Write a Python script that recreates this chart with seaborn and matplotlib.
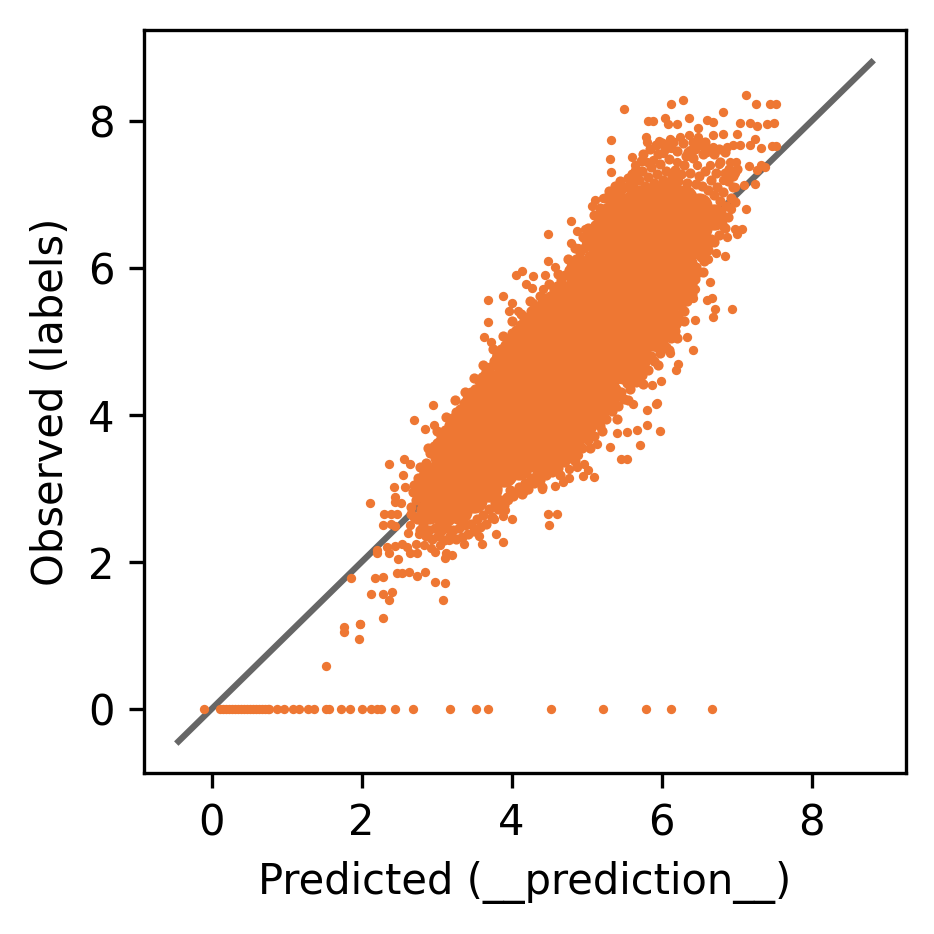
import matplotlib
matplotlib.use("Agg")
import matplotlib.pyplot as plt
import seaborn as sns
import pandas as pd

COLOR = "#EE7733"
LINE_COLOR = "#666666"
identity = [-0.44, 8.8]
ticks = [0, 2, 4, 6, 8]

# zero-labelled observations along the bottom
zero_x = [-0.10, 0.11, 0.15, 0.19, 0.23, 0.27, 0.31, 0.35, 0.39, 0.43, 0.47, 0.51, 0.55, 0.59, 0.63, 0.67,
          0.71, 0.75, 0.77, 0.87, 0.97, 1.09, 1.16, 1.28, 1.37, 1.52, 1.56, 1.73, 1.84, 2.01, 2.12,
          2.20, 2.26, 2.44, 2.69, 3.18, 3.52, 3.68, 4.52, 5.22, 5.79, 6.13, 6.67]
zero_y = [0.0] * len(zero_x)

# individually readable points around the cloud
pts_x = [1.53, 1.77, 1.77, 1.96, 1.98, 1.86,
         7.12, 6.29, 6.13, 5.50, 7.26, 7.44, 7.52, 6.82, 6.05, 6.36, 5.82, 5.89, 6.09, 6.20, 6.60, 6.68, 6.48, 7.04,
         7.18, 7.27, 7.40, 7.50, 7.00, 5.32, 5.79, 5.80, 5.96, 6.11, 6.25, 6.36, 6.48, 6.69, 6.82, 7.24, 7.18, 7.33,
         7.47, 7.52, 6.95, 7.04, 6.87, 6.69, 6.60, 6.13, 6.38, 5.31, 5.60, 5.65, 5.65, 5.32, 5.80, 5.89, 6.02, 6.20,
         6.47, 6.64, 6.76, 6.91, 6.99, 6.98, 7.16, 7.33, 7.38, 7.27, 7.24, 7.10, 6.98, 6.82, 7.13, 6.93, 7.07, 6.98,
         7.00, 6.87, 6.83, 6.84, 6.72, 6.62, 6.64, 6.45, 6.42, 6.67, 6.61, 6.71, 6.94, 6.69, 6.44, 6.34, 6.42, 6.11,
         6.22, 6.19, 5.99, 5.87, 5.94,
         4.79, 4.48, 4.87, 4.98, 5.14, 5.11, 5.22, 5.07, 5.22, 4.79, 4.89, 5.00, 4.49, 4.58, 4.14, 4.06, 4.29, 4.45,
         4.19, 4.27, 4.42, 3.69, 3.89, 4.01, 4.28, 3.96, 4.09, 3.68, 3.63, 3.72, 5.42, 5.56,
         2.70, 2.95, 2.84, 2.97, 2.37, 2.56, 2.65, 2.55, 2.43, 2.44, 2.45, 2.52, 2.58, 2.11, 2.30, 2.39, 2.47, 2.29,
         2.39, 2.45, 2.65, 2.62, 2.77, 2.20, 2.21, 2.34, 2.37, 2.45, 2.54, 2.61, 2.65, 2.74, 2.72, 2.83, 2.92, 2.98,
         3.05, 3.12, 3.11, 3.21, 2.48, 2.47, 2.54, 2.63, 2.74, 2.85, 2.98, 3.11, 3.09, 2.18, 2.29, 2.13, 2.29, 2.41,
         2.37, 2.29, 1.98,
         3.17, 3.37, 3.60, 3.57, 3.79, 3.88, 4.00, 3.89, 3.91, 3.95, 3.76, 4.16, 4.20, 4.41, 4.58, 4.48, 4.60, 4.50,
         4.68, 4.76, 4.95, 5.10, 5.02, 4.96, 4.87, 4.77, 4.60, 4.71, 5.31, 5.46, 5.54, 5.71, 5.14, 4.89, 4.74, 5.81,
         5.98, 5.67, 5.54, 5.40, 5.80, 5.93, 5.62, 5.29]
pts_y = [0.58, 1.11, 1.05, 0.95, 1.16, 1.78,
         8.36, 8.29, 8.23, 8.17, 8.23, 8.23, 8.23, 8.12, 8.04, 8.04, 8.00, 8.00, 7.96, 7.96, 8.01, 7.99, 7.91, 7.97,
         7.97, 7.94, 7.96, 7.97, 7.83, 7.75, 7.79, 7.72, 7.73, 7.76, 7.79, 7.81, 7.79, 7.81, 7.82, 7.76, 7.67, 7.64,
         7.66, 7.66, 7.67, 7.67, 7.65, 7.65, 7.58, 7.63, 7.61, 7.48, 7.51, 7.40, 7.33, 7.31, 7.44, 7.47, 7.56, 7.45,
         7.40, 7.40, 7.42, 7.45, 7.45, 7.29, 7.39, 7.40, 7.38, 7.33, 7.15, 7.13, 7.11, 7.20, 6.80, 6.81, 6.53, 6.53,
         6.46, 6.43, 6.54, 6.17, 6.20, 6.13, 5.81, 5.71, 5.59, 5.60, 5.56, 5.45, 5.44, 5.33, 5.30, 5.06, 4.89, 4.84,
         4.70, 4.62, 4.46, 4.41, 4.16,
         6.64, 6.46, 6.50, 6.53, 6.62, 6.93, 6.96, 6.85, 6.78, 6.34, 6.27, 6.31, 6.10, 6.02, 5.96, 5.90, 5.89, 5.91,
         5.78, 5.73, 5.71, 5.56, 5.62, 5.53, 5.52, 5.41, 5.41, 5.26, 5.06, 5.00, 7.11, 7.15,
         3.93, 4.14, 3.81, 3.86, 3.33, 3.40, 3.33, 3.18, 3.02, 2.89, 2.82, 2.80, 3.02, 2.80, 2.65, 2.66, 2.65, 2.50,
         2.52, 2.49, 2.50, 2.40, 2.38, 2.17, 2.13, 2.21, 2.12, 2.22, 2.24, 2.20, 2.12, 2.13, 2.24, 2.23, 2.19, 2.14,
         2.23, 2.13, 2.05, 2.09, 2.04, 1.85, 1.85, 1.86, 1.81, 1.86, 1.73, 1.72, 1.48, 1.78, 1.80, 1.57, 1.56, 1.59,
         1.49, 1.24, 1.16,
         2.30, 2.24, 2.25, 2.35, 2.38, 2.27, 2.59, 2.63, 2.71, 2.84, 2.58, 2.97, 2.99, 3.00, 3.03, 2.65, 2.66, 2.51,
         3.09, 3.14, 3.17, 3.16, 3.25, 3.34, 3.30, 3.27, 3.34, 3.36, 3.56, 3.40, 3.40, 3.59, 3.60, 3.46, 3.51, 3.86,
         3.78, 3.80, 3.77, 3.75, 4.07, 4.15, 4.15, 4.07]

# more loose points just outside the solid part of the cloud
loose = [(5.75, 7.55), (5.85, 7.62), (5.92, 7.68), (6.00, 7.70), (6.08, 7.68), (6.15, 7.72), (6.28, 7.70), (6.32, 7.52),
         (6.42, 7.72), (6.45, 7.62), (6.52, 7.68), (6.58, 7.72), (6.70, 7.55), (6.76, 7.62), (6.85, 7.58), (6.90, 7.35),
         (6.95, 7.25), (7.00, 7.35), (6.88, 7.18), (6.95, 7.10), (6.98, 6.90), (6.85, 7.30), (5.72, 7.46), (5.68, 7.32),
         (5.60, 7.28), (5.55, 7.22), (5.45, 7.18), (5.38, 7.12), (5.30, 7.05), (5.25, 6.95), (5.18, 6.82), (5.10, 6.72),
         (5.02, 6.55), (4.95, 6.42), (4.85, 6.28), (4.75, 6.12), (4.62, 5.92), (4.50, 5.78), (4.38, 5.62), (4.25, 5.55),
         (4.12, 5.38), (4.00, 5.28), (3.88, 5.08), (3.75, 4.90), (3.62, 4.68), (3.50, 4.50), (3.38, 4.32), (3.25, 4.20),
         (3.12, 3.98), (3.00, 3.78), (2.88, 3.55), (2.78, 3.30),
         (6.55, 5.95), (6.40, 5.65), (6.30, 5.28), (6.20, 5.05), (6.10, 4.88), (5.95, 4.68), (5.75, 4.42), (5.55, 4.20),
         (5.40, 3.95), (5.20, 3.78), (5.05, 3.55), (4.85, 3.38), (4.65, 3.18), (4.40, 3.02)]

# dense edge of the cloud: upper-left flank
upper_edge = [(2.66, 2.75), (2.68, 2.95), (2.70, 3.05), (2.72, 2.85), (2.75, 3.15), (2.78, 3.02), (2.80, 3.28),
              (2.83, 3.12), (2.86, 3.35), (2.88, 3.22), (2.91, 3.48), (2.93, 3.30), (2.96, 3.58), (2.98, 3.42),
              (3.01, 3.62), (3.03, 3.48), (3.06, 3.72), (3.08, 3.55), (3.11, 3.80), (3.13, 3.62), (3.16, 3.86),
              (3.18, 3.70), (3.21, 3.96), (3.23, 3.78), (3.26, 4.04), (3.28, 3.85), (3.31, 4.08), (3.33, 3.92),
              (3.36, 4.16), (3.38, 3.98), (3.41, 4.22), (3.43, 4.05), (3.46, 4.32), (3.48, 4.12), (3.51, 4.36),
              (3.53, 4.18), (3.56, 4.46), (3.58, 4.25), (3.61, 4.52), (3.63, 4.32), (3.66, 4.60), (3.68, 4.40),
              (3.71, 4.66), (3.73, 4.48), (3.76, 4.74), (3.78, 4.55), (3.81, 4.82), (3.83, 4.62), (3.86, 4.90),
              (3.88, 4.70), (3.91, 4.96), (3.93, 4.78), (3.96, 5.04), (3.98, 4.85), (4.01, 5.12), (4.03, 4.92),
              (4.06, 5.16), (4.08, 4.98), (4.11, 5.22), (4.13, 5.02), (4.16, 5.30), (4.18, 5.10), (4.21, 5.34),
              (4.23, 5.14), (4.26, 5.42), (4.28, 5.20), (4.31, 5.40), (4.33, 5.25), (4.36, 5.48), (4.38, 5.30),
              (4.41, 5.54), (4.43, 5.36), (4.46, 5.60), (4.48, 5.40), (4.51, 5.62), (4.53, 5.45), (4.56, 5.70),
              (4.58, 5.50), (4.61, 5.76), (4.63, 5.55), (4.66, 5.84), (4.68, 5.62), (4.71, 5.90), (4.73, 5.70),
              (4.76, 5.98), (4.78, 5.76), (4.81, 6.05), (4.83, 5.84), (4.86, 6.12), (4.88, 5.92), (4.91, 6.22),
              (4.93, 6.00), (4.96, 6.28), (4.98, 6.08), (5.01, 6.38), (5.03, 6.16), (5.06, 6.45), (5.08, 6.24),
              (5.11, 6.58), (5.13, 6.32), (5.16, 6.66), (5.18, 6.42), (5.21, 6.75), (5.23, 6.50), (5.26, 6.82),
              (5.28, 6.60), (5.31, 6.90), (5.33, 6.68), (5.36, 6.96), (5.38, 6.78), (5.41, 7.02), (5.43, 6.85)]

# dense edge of the cloud: top
top_edge = [(5.46, 7.06), (5.50, 6.92), (5.54, 7.10), (5.58, 7.00), (5.62, 7.16), (5.66, 7.05), (5.70, 7.20),
            (5.74, 7.32), (5.78, 7.12), (5.82, 7.24), (5.86, 7.38), (5.90, 7.16), (5.94, 7.28), (5.98, 7.42),
            (6.02, 7.20), (6.06, 7.32), (6.10, 7.48), (6.14, 7.24), (6.18, 7.34), (6.22, 7.18), (6.26, 7.28),
            (6.30, 7.40), (6.34, 7.16), (6.38, 7.30), (6.42, 7.50), (6.46, 7.14), (6.50, 7.26), (6.54, 7.12),
            (6.58, 7.32), (6.62, 7.06), (6.66, 7.20), (6.70, 7.00), (6.74, 7.10), (6.78, 6.92), (6.82, 7.04),
            (6.86, 6.84), (6.72, 7.30), (6.55, 7.55), (6.35, 7.58), (6.20, 7.60), (5.95, 7.55), (6.78, 7.45),
            (6.05, 7.62), (6.62, 7.62)]

# dense edge of the cloud: lower-right flank
lower_edge = [(6.88, 6.70), (6.92, 6.95), (6.85, 6.55), (6.80, 6.60), (6.76, 6.45), (6.72, 6.60), (6.70, 6.35),
              (6.66, 6.40), (6.62, 6.25), (6.58, 6.30), (6.56, 6.10), (6.52, 6.15), (6.50, 5.95), (6.46, 6.02),
              (6.44, 5.85), (6.40, 5.90), (6.38, 5.70), (6.34, 5.75), (6.34, 5.55), (6.30, 5.60), (6.30, 5.42),
              (6.26, 5.48), (6.24, 5.30), (6.20, 5.36), (6.18, 5.15), (6.14, 5.22), (6.12, 5.05), (6.08, 5.10),
              (6.06, 4.92), (6.02, 5.00), (5.98, 4.85), (5.94, 4.92), (5.90, 4.74), (5.86, 4.80), (5.82, 4.62),
              (5.78, 4.72), (5.74, 4.55), (5.70, 4.62), (5.66, 4.45), (5.62, 4.52), (5.58, 4.35), (5.54, 4.44),
              (5.50, 4.22), (5.46, 4.32), (5.42, 4.12), (5.38, 4.24), (5.34, 4.05), (5.30, 4.14), (5.26, 3.95),
              (5.22, 4.04), (5.18, 3.85), (5.14, 3.92), (5.10, 3.72), (5.06, 3.82), (5.02, 3.66), (4.98, 3.72),
              (4.94, 3.55), (4.90, 3.62), (4.86, 3.50), (4.82, 3.56), (4.78, 3.42), (4.74, 3.50), (4.70, 3.36),
              (4.66, 3.44), (4.62, 3.28), (4.58, 3.36), (4.54, 3.22), (4.50, 3.30), (4.46, 3.18), (4.42, 3.24),
              (4.38, 3.12), (4.34, 3.20), (4.30, 3.08), (4.26, 3.14), (4.22, 3.00), (4.18, 3.08), (4.14, 2.92),
              (4.10, 3.02), (4.06, 2.96), (4.02, 2.90), (3.98, 2.98), (3.94, 2.88), (3.90, 2.78), (3.86, 2.85),
              (3.82, 2.72), (3.78, 2.80), (3.74, 2.62), (3.70, 2.72), (3.66, 2.52), (3.62, 2.64), (3.58, 2.48),
              (3.54, 2.58), (3.50, 2.42), (3.46, 2.52), (3.42, 2.38), (3.38, 2.50), (3.34, 2.34), (3.30, 2.46),
              (3.26, 2.32), (3.22, 2.44), (3.18, 2.36), (3.14, 2.46), (3.10, 2.30), (3.06, 2.42), (3.02, 2.36),
              (2.98, 2.46), (2.94, 2.32), (2.90, 2.44), (2.86, 2.36), (2.82, 2.50), (2.78, 2.44), (2.74, 2.58),
              (2.70, 2.62), (2.66, 2.66)]

# the overplotted centre of the cloud, drawn with wider discs
core_x = [2.9, 2.9, 2.9,
          3.1, 3.1, 3.1, 3.1, 3.1,
          3.3, 3.3, 3.3, 3.3, 3.3, 3.3,
          3.5, 3.5, 3.5, 3.5, 3.5, 3.5, 3.5,
          3.7, 3.7, 3.7, 3.7, 3.7, 3.7, 3.7,
          3.9, 3.9, 3.9, 3.9, 3.9, 3.9, 3.9,
          4.1, 4.1, 4.1, 4.1, 4.1, 4.1, 4.1, 4.1,
          4.3, 4.3, 4.3, 4.3, 4.3, 4.3, 4.3, 4.3,
          4.5, 4.5, 4.5, 4.5, 4.5, 4.5, 4.5, 4.5, 4.5,
          4.7, 4.7, 4.7, 4.7, 4.7, 4.7, 4.7, 4.7, 4.7,
          4.9, 4.9, 4.9, 4.9, 4.9, 4.9, 4.9, 4.9, 4.9, 4.9,
          5.1, 5.1, 5.1, 5.1, 5.1, 5.1, 5.1, 5.1, 5.1, 5.1,
          5.3, 5.3, 5.3, 5.3, 5.3, 5.3, 5.3, 5.3, 5.3, 5.3, 5.3,
          5.5, 5.5, 5.5, 5.5, 5.5, 5.5, 5.5, 5.5, 5.5, 5.5,
          5.7, 5.7, 5.7, 5.7, 5.7, 5.7, 5.7, 5.7, 5.7, 5.7,
          5.9, 5.9, 5.9, 5.9, 5.9, 5.9, 5.9, 5.9, 5.9,
          6.1, 6.1, 6.1, 6.1, 6.1, 6.1, 6.1, 6.1,
          6.3, 6.3, 6.3, 6.3, 6.3, 6.3,
          6.5, 6.5, 6.5, 6.5,
          6.7]
core_y = [2.7, 2.95, 3.1,
          2.65, 2.9, 3.15, 3.4, 3.55,
          2.7, 2.95, 3.2, 3.45, 3.7, 3.85,
          2.85, 3.1, 3.35, 3.6, 3.85, 4.1, 4.15,
          3.0, 3.25, 3.5, 3.75, 4.0, 4.25, 4.45,
          3.2, 3.45, 3.7, 3.95, 4.2, 4.45, 4.75,
          3.3, 3.55, 3.8, 4.05, 4.3, 4.55, 4.8, 5.0,
          3.4, 3.65, 3.9, 4.15, 4.4, 4.65, 4.9, 5.2,
          3.5, 3.75, 4.0, 4.25, 4.5, 4.75, 5.0, 5.25, 5.4,
          3.65, 3.9, 4.15, 4.4, 4.65, 4.9, 5.15, 5.4, 5.65,
          3.8, 4.05, 4.3, 4.55, 4.8, 5.05, 5.3, 5.55, 5.8, 6.0,
          4.05, 4.3, 4.55, 4.8, 5.05, 5.3, 5.55, 5.8, 6.05, 6.4,
          4.3, 4.55, 4.8, 5.05, 5.3, 5.55, 5.8, 6.05, 6.3, 6.55, 6.7,
          4.6, 4.85, 5.1, 5.35, 5.6, 5.85, 6.1, 6.35, 6.6, 6.85,
          4.8, 5.05, 5.3, 5.55, 5.8, 6.05, 6.3, 6.55, 6.8, 6.95,
          5.05, 5.3, 5.55, 5.8, 6.05, 6.3, 6.55, 6.8, 7.0,
          5.3, 5.55, 5.8, 6.05, 6.3, 6.55, 6.8, 7.05,
          5.8, 6.05, 6.3, 6.55, 6.8, 6.95,
          6.3, 6.55, 6.8, 6.85,
          6.7]

DPI = 300
W = 934 / DPI
fig, ax = plt.subplots(figsize=(W, W), dpi=DPI)
fig.subplots_adjust(left=144 / 934, right=906 / 934, bottom=1 - 773 / 934, top=1 - 30 / 934)

line_df = pd.DataFrame({"x": identity, "y": identity})
sns.lineplot(data=line_df, x="x", y="y", color=LINE_COLOR, linewidth=1.5, sort=False, errorbar=None, ax=ax, zorder=1)

core_df = pd.DataFrame({"x": core_x, "y": core_y})
sns.scatterplot(data=core_df, x="x", y="y", color=COLOR, s=40, linewidth=0, ax=ax, zorder=2)

edge_df = pd.DataFrame(upper_edge + top_edge + lower_edge + loose, columns=["x", "y"])
sns.scatterplot(data=edge_df, x="x", y="y", color=COLOR, s=6, linewidth=0, ax=ax, zorder=3)

pts_df = pd.DataFrame({"x": pts_x + zero_x, "y": pts_y + zero_y})
sns.scatterplot(data=pts_df, x="x", y="y", color=COLOR, s=5, linewidth=0, ax=ax, zorder=3)

ax.set_xlim(-0.90, 9.26)
ax.set_ylim(-0.87, 9.24)
ax.set_xticks(ticks)
ax.set_yticks(ticks)
ax.set_xlabel("Predicted (__prediction__)")
ax.set_ylabel("Observed (labels)")
fig.savefig("out.png", dpi=DPI)
